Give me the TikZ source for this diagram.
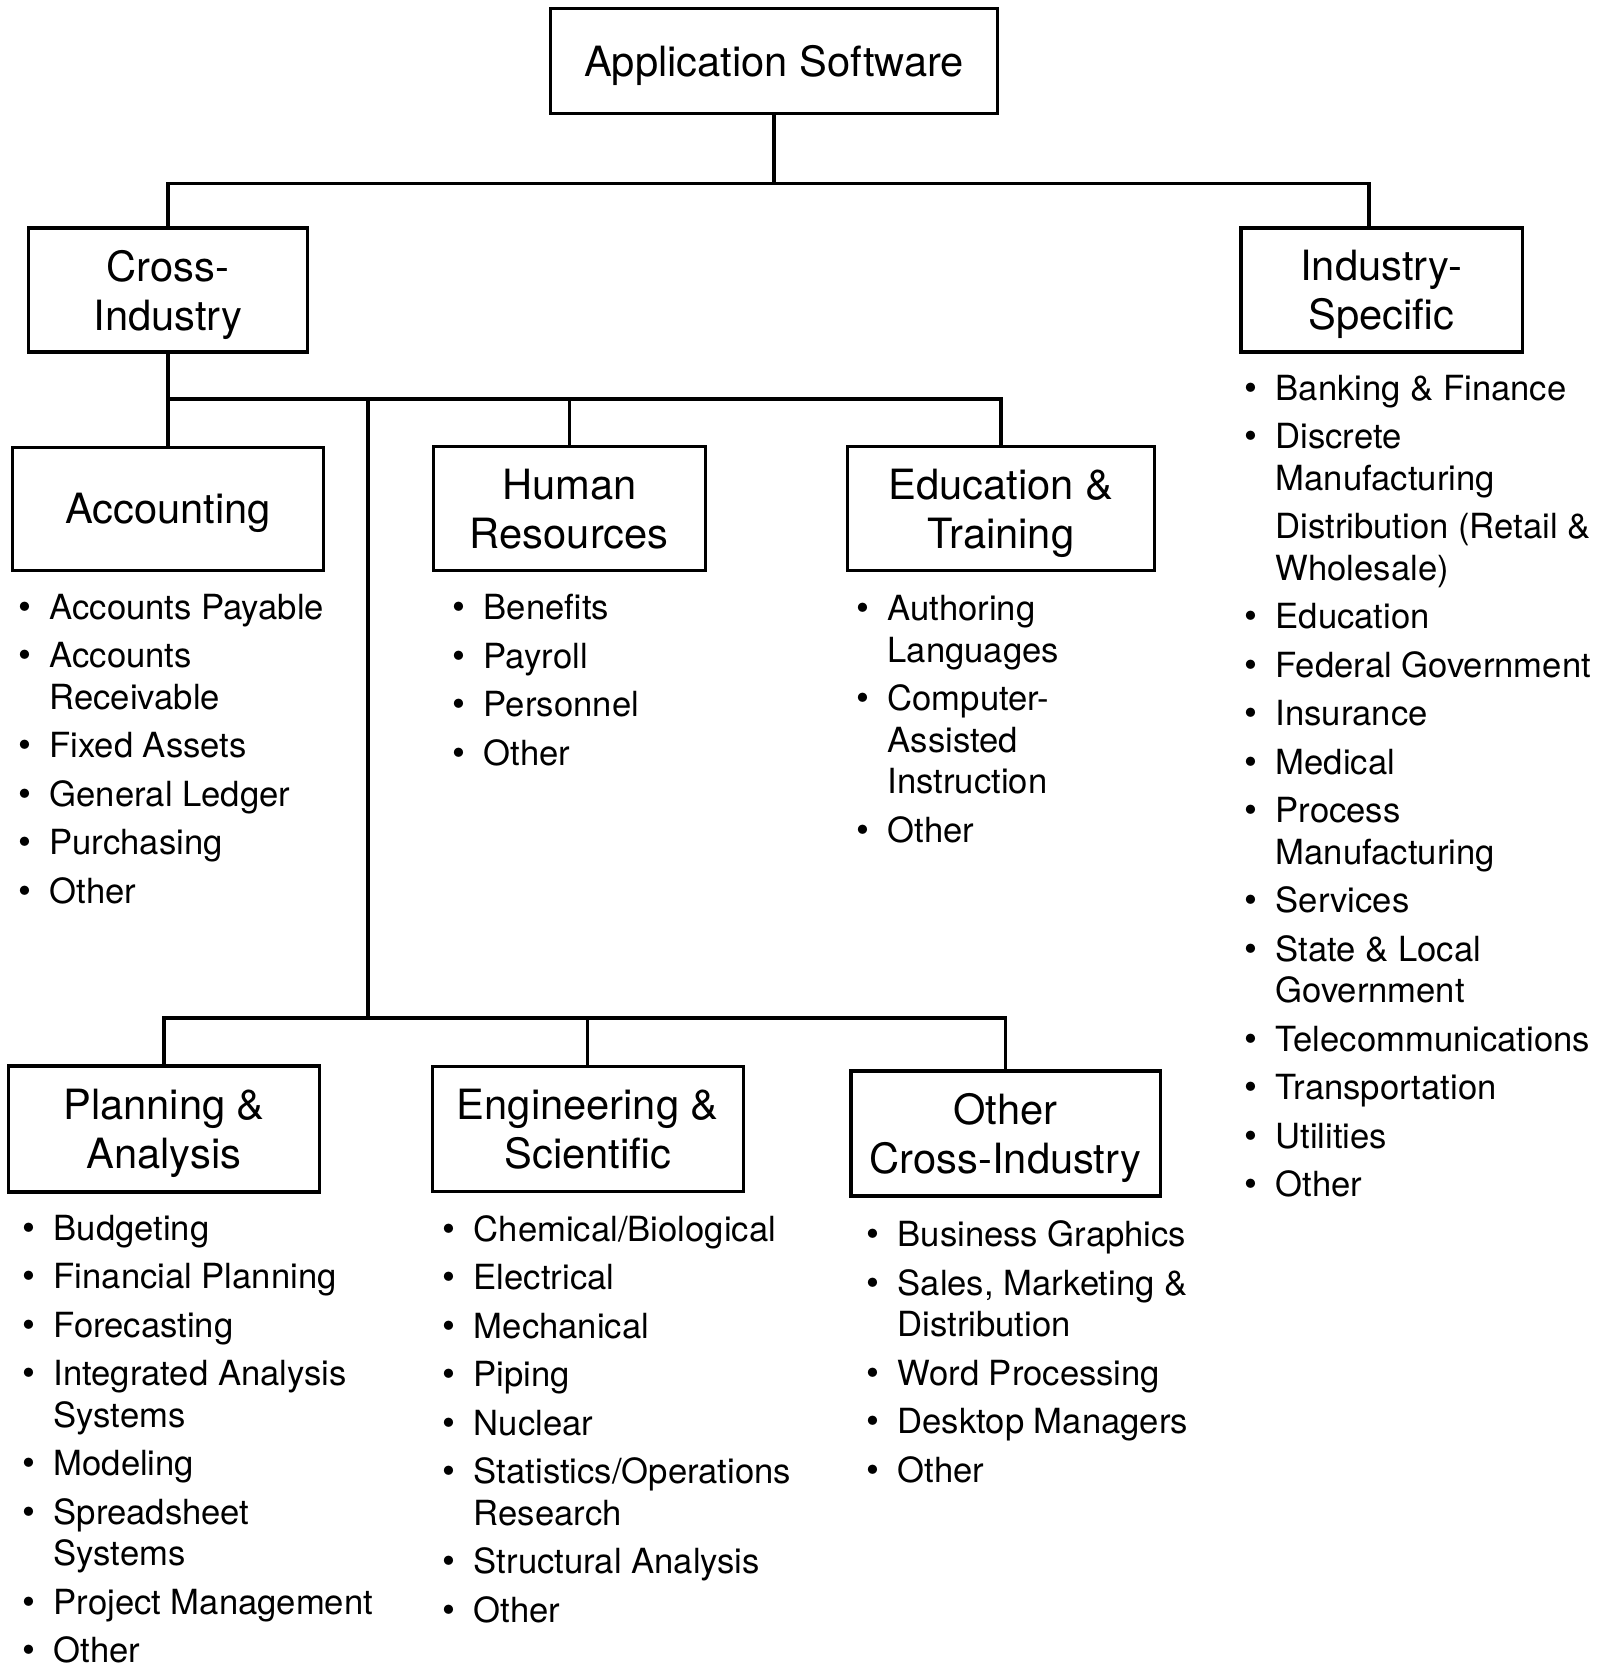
\documentclass[tikz,border=0pt]{standalone}
\usepackage{fontspec}
\setmainfont{TeX Gyre Heros}
\usetikzlibrary{positioning}

\newcommand{\bul}{\makebox[0.31cm][l]{\fontsize{10.5}{10.5}\selectfont\textbullet}}
\newcommand{\cont}{\hspace*{0.31cm}}

\begin{document}
\begin{tikzpicture}[x=0.01cm,y=-0.01cm,
  box/.style={draw,line width=0.9pt,outer sep=0pt,inner sep=0pt,align=center,text depth=0pt,font=\fontsize{11.85}{13.9}\selectfont},
  lst/.style={inner sep=0pt,align=left,font=\fontsize{9.85}{11.8}\selectfont},
  link/.style={line width=0.9pt}]
\useasboundingbox (0,0) rectangle (1612,1666);
% top levels
\node[box,minimum width=4.47cm,minimum height=1.05cm] (app) at (774,61) {Application Software};
\node[box,minimum width=2.79cm,minimum height=1.24cm] (cross) at (168,290) {Cross-\\Industry};
\node[box,minimum width=2.81cm,minimum height=1.24cm] (isp) at (1381.5,290) {Industry-\\Specific};
% cross-industry, first row
\node[box,minimum width=3.10cm,minimum height=1.23cm,below=0.95cm of cross] (acc) {Accounting};
\node[box,minimum width=2.72cm,minimum height=1.24cm,right=1.10cm of acc] (hr) {Human\\Resources};
\node[box,minimum width=3.07cm,minimum height=1.24cm,right=1.42cm of hr] (edu) {Education \&\\Training};
% cross-industry, second row
\node[box,minimum width=3.10cm,minimum height=1.26cm] (plan) at (164,1129) {Planning \&\\Analysis};
\node[box,minimum width=3.11cm,minimum height=1.25cm,right=1.13cm of plan] (eng) {Engineering \&\\Scientific};
\node[box,minimum width=3.09cm,minimum height=1.25cm] (oth) at (1005.5,1133.5) {Other\\Cross-Industry};

% connectors
\coordinate[below=0.70cm of app.south] (top);
\draw[link] (app.south) -- (top);
\draw[link] (cross.north) |- (top) -| ([xshift=-1.25mm]isp.north);
\coordinate[below=0.47cm of cross.south] (mid);
\draw[link] (cross.south) -- (acc.north);
\draw[link] (mid) -| (edu.north);
\draw[link] (hr.north |- mid) -- (hr.north);
\coordinate (fork) at (368,399);
\coordinate (low) at (368,1018);
\draw[link] (fork) -- (low);
\draw[link] (plan.north) |- (low) -| (oth.north);
\draw[link] (eng.north |- low) -- (eng.north);

% lists
\node[lst,below right=0.23cm and 0.05cm of acc.south west] (accl) {%
\bul Accounts Payable\\[2pt]
\bul Accounts\\
\cont Receivable\\[2pt]
\bul Fixed Assets\\[2pt]
\bul General Ledger\\[2pt]
\bul Purchasing\\[2pt]
\bul Other};
\node[lst,below right=0.23cm and 0.19cm of hr.south west] (hrl) {%
\bul Benefits\\[2pt]
\bul Payroll\\[2pt]
\bul Personnel\\[2pt]
\bul Other};
\node[lst,below right=0.24cm and 0.085cm of edu.south west] (edul) {%
\bul Authoring\\
\cont Languages\\[2pt]
\bul Computer-\\
\cont Assisted\\
\cont Instruction\\[2pt]
\bul Other};
\node[lst,below right=0.22cm and 0.03cm of isp.south west] (ispl) {%
\bul Banking \& Finance\\[2pt]
\bul Discrete\\
\cont Manufacturing\\[2pt]
\cont Distribution (Retail \&\\
\cont Wholesale)\\[2pt]
\bul Education\\[2pt]
\bul Federal Government\\[2pt]
\bul Insurance\\[2pt]
\bul Medical\\[2pt]
\bul Process\\
\cont Manufacturing\\[2pt]
\bul Services\\[2pt]
\bul State \& Local\\
\cont Government\\[2pt]
\bul Telecommunications\\[2pt]
\bul Transportation\\[2pt]
\bul Utilities\\[2pt]
\bul Other};
\node[lst,below right=0.22cm and 0.13cm of plan.south west] (planl) {%
\bul Budgeting\\[2pt]
\bul Financial Planning\\[2pt]
\bul Forecasting\\[2pt]
\bul Integrated Analysis\\
\cont Systems\\[2pt]
\bul Modeling\\[2pt]
\bul Spreadsheet\\
\cont Systems\\[2pt]
\bul Project Management\\[2pt]
\bul Other};
\node[lst,below right=0.23cm and 0.10cm of eng.south west] (engl) {%
\bul Chemical/Biological\\[2pt]
\bul Electrical\\[2pt]
\bul Mechanical\\[2pt]
\bul Piping\\[2pt]
\bul Nuclear\\[2pt]
\bul Statistics/Operations\\
\cont Research\\[2pt]
\bul Structural Analysis\\[2pt]
\bul Other};
\node[lst,below right=0.24cm and 0.15cm of oth.south west] (othl) {%
\bul Business Graphics\\[2pt]
\bul Sales, Marketing \&\\
\cont Distribution\\[2pt]
\bul Word Processing\\[2pt]
\bul Desktop Managers\\[2pt]
\bul Other};
\end{tikzpicture}
\end{document}
